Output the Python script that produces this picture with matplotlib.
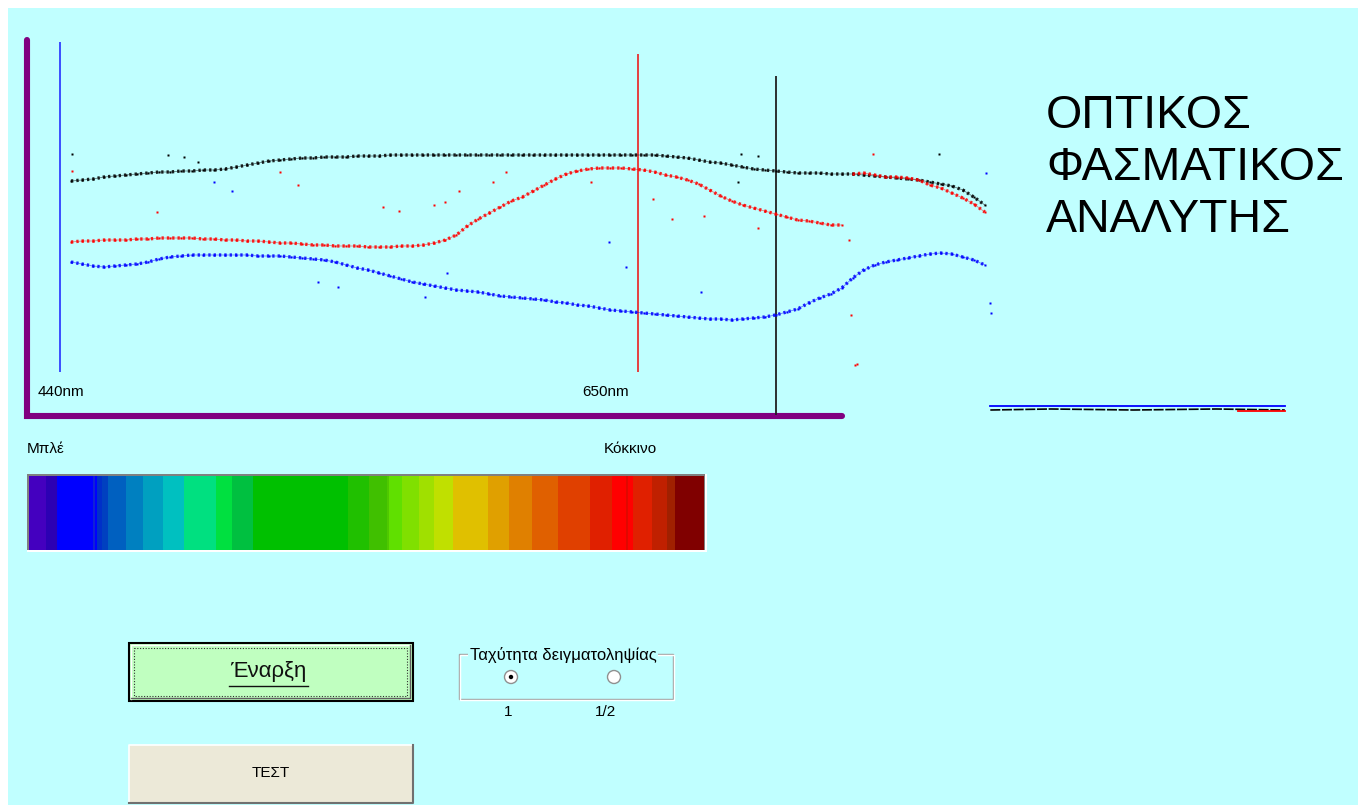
import numpy as np
import matplotlib
matplotlib.use("Agg")
import matplotlib.pyplot as plt
from matplotlib.patches import Rectangle, Circle

# ------------------------------------------------------------------ data
# sampled wavelengths (nm) for the three measured spectra
wavelength_nm = list(range(444, 777, 4))          # 84 samples, 444..776 nm

black_intensity = [234, 235, 236, 238, 239, 240, 241, 242, 243, 243, 244, 244, 245, 245, 246,
                   248, 250, 252, 254, 255, 256, 257, 257, 258, 258, 258, 259, 259, 259,
                   260, 260, 260, 260, 260, 260, 260, 260, 260, 260, 260, 260, 260, 260, 260,
                   260, 260, 260, 260, 260, 260, 260, 260, 260, 260,
                   259, 258, 257, 255, 253, 252, 250, 248, 246, 245, 244, 243, 242, 242, 242,
                   241, 241, 241, 240, 239, 238, 237, 236, 235, 233, 231, 229, 225, 218, 210]

red_intensity = [173, 174, 174, 175, 175, 175, 176, 176, 177, 177, 177, 177, 176, 176, 175,
                 175, 174, 174, 173, 172, 172, 171, 170, 170, 169, 169, 169, 168, 168,
                 168, 169, 169, 170, 172, 175, 180, 189, 196, 202, 208, 214, 218, 224, 230,
                 236, 241, 244, 246, 247, 247, 247, 246, 245, 243,
                 240, 238, 235, 231, 225, 219, 214, 210, 207, 204, 201, 198, 195, 194, 192,
                 190, 190]
red_tail_nm = [728, 732, 736, 740, 744, 748, 752, 756, 760, 764, 768, 772, 776]
red_tail_intensity = [241, 242, 240, 238, 238, 237, 235, 230, 227, 222, 217, 211, 203]

blue_intensity = [153, 151, 149, 148, 149, 150, 151, 153, 156, 158, 159, 160, 160, 160, 160,
                  160, 160, 159, 159, 159, 158, 157, 156, 155, 153, 150, 147, 145, 142,
                  139, 136, 133, 131, 129, 127, 125, 124, 123, 121, 119, 118, 117, 116, 115,
                  113, 112, 110, 109, 107, 105, 104, 103, 102, 101,
                  100, 99, 98, 97, 96, 96, 95, 96, 97, 98, 100, 103, 106, 112, 117,
                  121, 127, 137, 145, 150, 153, 155, 157, 159, 161, 162, 161, 158, 155, 150]

# stray samples
black_out_nm = [444.4, 479.2, 485.0, 490.1, 687.4, 693.6, 759.4, 686.3]
black_out_int = [261, 260, 258, 253, 261, 259, 261, 233]
red_out_nm = [444.4, 475.2, 519.9, 526.5, 557.4, 563.2, 575.9, 579.9, 585.0, 597.3, 602.0,
              632.9, 655.5, 662.3, 674.0, 693.6, 726.7, 735.4, 727.4, 728.8, 729.5]
red_out_int = [244, 203, 243, 230, 208, 204, 210, 213, 224, 233, 243,
               233, 216, 196, 199, 187, 175, 261, 100, 50, 51]
blue_out_nm = [496.0, 502.5, 533.7, 541.0, 572.6, 580.6, 639.5, 645.6, 672.9, 776.4, 778.0, 778.2]
blue_out_int = [233, 224, 133, 128, 118, 142, 173, 148, 123, 242, 112, 102]

# readings beyond the marked range (near zero)
tail_nm = [778, 800, 830, 860, 885]
tail_blue = [9, 9, 9, 9, 9]
tail_black = [5, 6, 5, 6, 5]
tail_red_nm = [868, 885]
tail_red = [4, 4]

# marker lines
marker_nm = [440, 650, 700]
marker_top = [373, 361, 339]
marker_bottom = [43, 43, 0]
marker_colors = ["#3040FF", "#E83030", "#202020"]
marker_labels = ["440nm", "650nm"]

# colour strip (pixel edges of the bands inside the strip)
strip_edges = [29, 46, 57.3, 92.7, 95.3, 97.3, 101.7, 108.3, 125.7, 142.7, 162.7, 184.3, 216,
               232, 252.7, 347.7, 369.3, 386.7, 389, 401.7, 419.3, 434, 452.7, 488, 509.3,
               532, 557.7, 590, 612.3, 626, 628.3, 632.7, 651.7, 666.7, 675, 704.3]
strip_colors = ["#4400BF", "#2C00B4", "#0000FF", "#1020D8", "#0000FF", "#0030C8", "#0040C0",
                "#0060C0", "#0080C0", "#00A0C0", "#00C0C0", "#00E080", "#00E040", "#00C040",
                "#00C000", "#20C000", "#40C000", "#50C800", "#60E000", "#80E000", "#A0E000",
                "#C0E000", "#E0C000", "#E0A000", "#E08000", "#E06000", "#E04000", "#E02000",
                "#FF0000", "#E00800", "#FF0000", "#E02000", "#C02000", "#A02000", "#800000"]

title_lines = ["ΟΠΤΙΚΟΣ", "ΦΑΣΜΑΤΙΚΟΣ", "ΑΝΑΛΥΤΗΣ"]

# ------------------------------------------------------------------ figure
W, H, DPI = 1358, 805, 100
BG = "#C0FFFF"
FONT = ["Liberation Sans", "DejaVu Sans"]
plt.rcParams["font.family"] = FONT

fig = plt.figure(figsize=(W / DPI, H / DPI), dpi=DPI, facecolor=BG)

# UI layer in pixel coordinates
ui = fig.add_axes([0, 0, 1, 1])
ui.set_xlim(0, W)
ui.set_ylim(H, 0)
ui.axis("off")
ui.set_facecolor(BG)
ui.add_patch(Rectangle((0, 0), W, 8, facecolor="white", edgecolor="none", zorder=1))
ui.add_patch(Rectangle((0, 0), 8, H, facecolor="white", edgecolor="none", zorder=1))

# purple frame
ui.plot([27, 27, 842], [40, 416, 416], color="#800080", lw=4.4,
        solid_capstyle="round", solid_joinstyle="miter", zorder=3)

# spectrum layer: wavelength (nm) vs intensity
def px2nm(px):
    return 440 + (px - 60) * 210.0 / 578.0

spec = fig.add_axes([0, 0, 1, 1])
spec.set_xlim(px2nm(0), px2nm(W))
spec.set_ylim(415 - H, 415)
spec.axis("off")
spec.patch.set_alpha(0)

spec.vlines(marker_nm, marker_bottom, marker_top, colors=marker_colors, lw=1.3, zorder=2)

wl = np.array(wavelength_nm)
n_red = len(red_intensity)
series = [
    (wl, black_intensity, "#000000"),
    (wl[:n_red], red_intensity, "#FF0000"),
    (red_tail_nm, red_tail_intensity, "#FF0000"),
    (wl, blue_intensity, "#0000FF"),
]
for x, y, c in series:
    spec.plot(x, y, color=c, lw=2.4, alpha=0.85, ls=(0, (0.7, 0.9)), zorder=4)
    spec.plot(x, y, color=c, lw=0.6, alpha=0.5, zorder=4)
    spec.plot(x, y, ls="none", marker="s", ms=1.8, mec="none", mfc=c, zorder=5)

for x, y, c in [(black_out_nm, black_out_int, "#000000"),
                (red_out_nm, red_out_int, "#FF0000"),
                (blue_out_nm, blue_out_int, "#0000FF")]:
    spec.plot(x, y, ls="none", marker="s", ms=1.5, mec="none", mfc=c, zorder=5)

spec.plot(tail_nm, tail_blue, color="#0000FF", lw=1.3, zorder=4)
spec.plot(tail_nm, tail_black, color="#000000", lw=1.2, ls=(0, (6, 1)), zorder=4)
spec.plot(tail_red_nm, tail_red, color="#FF0000", lw=1.3, zorder=4)

# marker labels
small = dict(fontsize=11, color="black", family=FONT)
ui.text(38, 392, marker_labels[0], ha="left", va="center", **small)
ui.text(582, 392, marker_labels[1], ha="left", va="center", **small)

# title
for i, line in enumerate(title_lines):
    ui.text(1046, 128 + i * 52, line, ha="left", va="baseline", fontsize=33.5,
            color="black", family=FONT)

# colour strip
ui.text(27, 449, "Μπλέ", ha="left", va="center", **small)
ui.text(604, 449, "Κόκκινο", ha="left", va="center", **small)
ui.add_patch(Rectangle((27, 474), 680, 78, facecolor="white", edgecolor="none", zorder=2))
ui.add_patch(Rectangle((27, 474), 678, 76, facecolor="#808080", edgecolor="none", zorder=2))
for i, c in enumerate(strip_colors):
    ui.add_patch(Rectangle((strip_edges[i], 476), strip_edges[i + 1] - strip_edges[i], 74,
                           facecolor=c, edgecolor="none", zorder=3))

# start button
ui.add_patch(Rectangle((129, 643), 284, 58, facecolor="#C0FFC0", edgecolor="black",
                       lw=1.5, zorder=2))
ui.plot([131, 131, 410], [699, 645, 645], color="white", lw=1.0, zorder=3)
ui.plot([131, 410, 410], [698, 698, 645], color="#606060", lw=1.0, zorder=3)
ui.add_patch(Rectangle((134, 648), 273, 48, facecolor="none", edgecolor="#303030",
                       lw=0.8, ls=(0, (1, 1.5)), zorder=3))
ui.text(268, 671, "Έναρξη", ha="center", va="center", fontsize=16, color="#101010",
        family=FONT, zorder=4)
ui.plot([229, 308], [686, 686], color="#101010", lw=1.0, zorder=4)

# test button
ui.add_patch(Rectangle((129, 745), 284, 58, facecolor="#ECE9D8", edgecolor="none", zorder=2))
ui.plot([129, 129, 413], [803, 745, 745], color="white", lw=1.2, zorder=3)
ui.plot([129, 412.5, 412.5], [802.5, 802.5, 745], color="#707070", lw=1.5, zorder=3)
ui.text(271, 773, "ΤΕΣΤ", ha="center", va="center", fontsize=11, color="black",
        family=FONT, zorder=4)

# sampling-rate group box
ui.add_patch(Rectangle((458.5, 653.5), 214, 45, facecolor="none", edgecolor="#A0A0A0",
                       lw=1.0, zorder=2))
ui.add_patch(Rectangle((459.5, 654.5), 214, 45, facecolor="none", edgecolor="white",
                       lw=1.0, zorder=2))
ui.text(563, 655, "Ταχύτητα δειγματοληψίας", ha="center", va="center", fontsize=12,
        color="black", family=FONT, zorder=4,
        bbox=dict(facecolor=BG, edgecolor="none", pad=1.0))
for cx, sel in [(511, True), (614, False)]:
    ui.add_patch(Circle((cx, 677), 6.5, facecolor="white", edgecolor="#909090", lw=1.0,
                        zorder=3))
    if sel:
        ui.add_patch(Circle((cx, 677), 2.2, facecolor="black", edgecolor="none", zorder=4))
ui.text(508, 712, "1", ha="center", va="center", fontsize=11, color="black",
        family=FONT)
ui.text(606, 712, "1/2", ha="center", va="center", fontsize=11, color="black",
        family=FONT)

fig.savefig("out.png", dpi=DPI, facecolor=BG)
